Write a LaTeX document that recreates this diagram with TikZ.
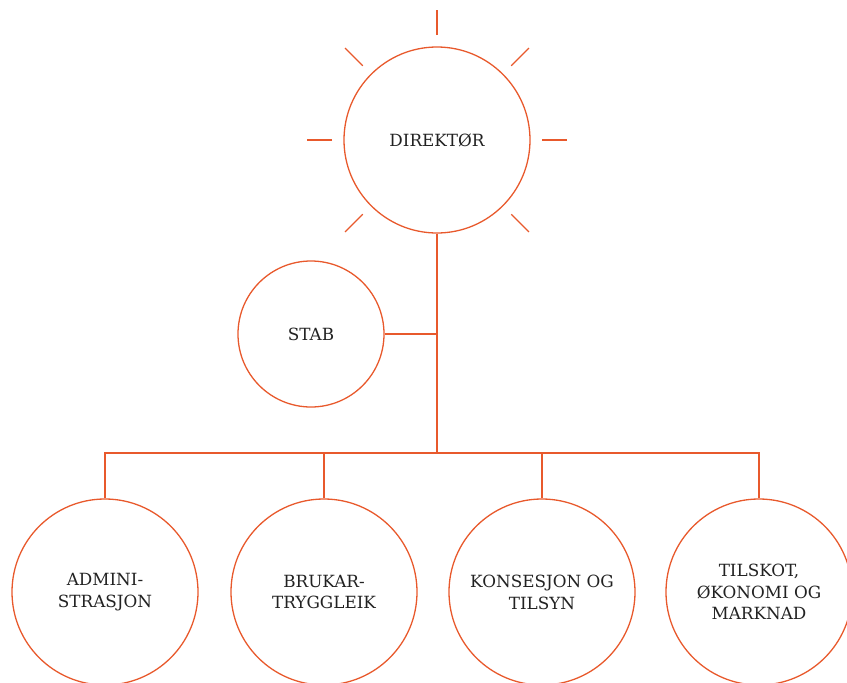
\documentclass[tikz,border=0pt]{standalone}
\usepackage{fontspec}
\setmainfont{DejaVu Serif}
\usetikzlibrary{calc}
\definecolor{orgline}{HTML}{E8592C}
\definecolor{txt}{HTML}{222222}
\begin{document}
\begin{tikzpicture}[x=1pt,y=-1pt,
  unit/.style={circle,draw=orgline,line width=1.3pt,inner sep=0pt,align=center,
    text=txt,font=\fontsize{16.8}{21.8}\selectfont},
  link/.style={draw=orgline,line width=1.3pt},
  ray/.style={draw=orgline,line width=1.3pt}]
\useasboundingbox (0,0) rectangle (847,683);
\clip (0,0) rectangle (847,683);
\node[unit,minimum size=186pt] (dir) at (437,140) {DIREKTØR};
\foreach \a in {0,45,90,135,180,225,270,315}
  \draw[ray] ($(dir.center)+(\a:105)$) -- ($(dir.center)+(\a:130)$);
\node[unit,minimum size=146pt] (stab) at (311,334) {STAB};
\node[unit,minimum size=186pt] (adm) at (105,592) {ADMINI-\\STRASJON};
\node[unit,minimum size=186pt] (bru) at (324,592) {BRUKAR-\\TRYGGLEIK};
\node[unit,minimum size=186pt] (kon) at (542,592) {KONSESJON OG\\TILSYN};
\node[unit,minimum size=186pt] (til) at (759,592) {TILSKOT,\\ØKONOMI OG\\MARKNAD};
\coordinate (bus) at (437,453);
\draw[link] (dir.south) -- (bus);
\draw[link] (stab.east) -- (stab.east -| dir.south);
\draw[link] (adm.north) -- (adm.north |- bus) -- (til.north |- bus) -- (til.north);
\draw[link] (bru.north) -- (bru.north |- bus);
\draw[link] (kon.north) -- (kon.north |- bus);
\end{tikzpicture}
\end{document}
